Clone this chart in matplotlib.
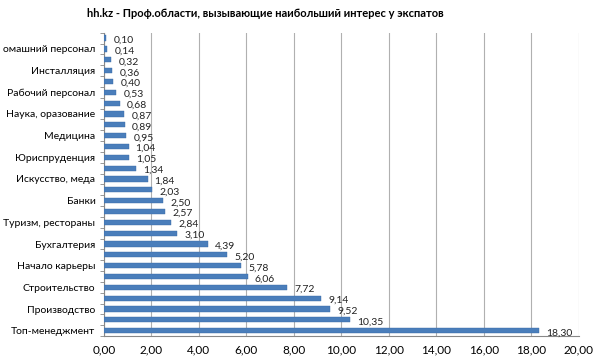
import matplotlib
matplotlib.use("Agg")
import matplotlib.pyplot as plt
from matplotlib.ticker import FuncFormatter, MultipleLocator

plt.rcParams["font.family"] = ["Lato", "DejaVu Sans"]

# bottom to top, as in the chart
values = [18.30, 10.35, 9.52, 9.14, 7.72, 6.06, 5.78, 5.20, 4.39, 3.10,
          2.84, 2.57, 2.50, 2.03, 1.84, 1.34, 1.05, 1.04, 0.95, 0.89,
          0.87, 0.68, 0.53, 0.40, 0.36, 0.32, 0.14, 0.10]
# only every second category name is shown on the axis
labels = ["Топ-менеджмент", "", "Производство", "", "Строительство", "",
          "Начало карьеры", "", "Бухгалтерия", "", "Туризм, рестораны", "",
          "Банки", "", "Искусство, меда", "", "Юриспруденция", "",
          "Медицина", "", "Наука, оразование", "", "Рабочий персонал", "",
          "Инсталляция", "", "омашний персонал", ""]
title = "hh.kz - Проф.области, вызывающие наибольший интерес у экспатов"

fig = plt.figure(figsize=(6, 3.63), dpi=100)
ax = fig.add_axes([0.173, 0.074, 0.792, 0.836])

y = list(range(len(values)))
ax.barh(y, values, height=0.48, color="#4a7ebb", edgecolor="#3a6aa5", linewidth=0.3, zorder=3)

for yi, v in zip(y, values):
    ax.text(v + 0.3, yi - 0.2, f"{v:.2f}".replace(".", ","), fontsize=7.5,
            va="center", ha="left", color="#222222", zorder=4)

ax.set_xlim(0, 20)
ax.set_ylim(-0.5, len(values) - 0.5)
ax.xaxis.set_major_locator(MultipleLocator(2))
ax.xaxis.set_major_formatter(FuncFormatter(lambda x, p: f"{x:.2f}".replace(".", ",")))
ax.set_yticks(y)
ax.set_yticklabels(labels, fontsize=7.5)
ax.tick_params(axis="y", length=0, pad=6)
ax.tick_params(axis="x", length=0, labelsize=8.5, pad=6)

# minor ticks on the category axis between categories
ax.set_yticks([i - 0.5 for i in range(len(values) + 1)], minor=True)
ax.tick_params(axis="y", which="minor", length=3, color="#888888", width=0.6)

ax.grid(axis="x", color="#b0b0b0", linewidth=0.8, zorder=0)
for s in ["top", "right"]:
    ax.spines[s].set_visible(False)
ax.spines["left"].set_color("#888888")
ax.spines["bottom"].set_color("#888888")
ax.spines["left"].set_linewidth(0.8)
ax.spines["bottom"].set_linewidth(0.8)

fig.text(0.442, 0.963, title, ha="center", va="center", fontsize=8, fontweight="bold")

fig.savefig("out.png", dpi=100)
